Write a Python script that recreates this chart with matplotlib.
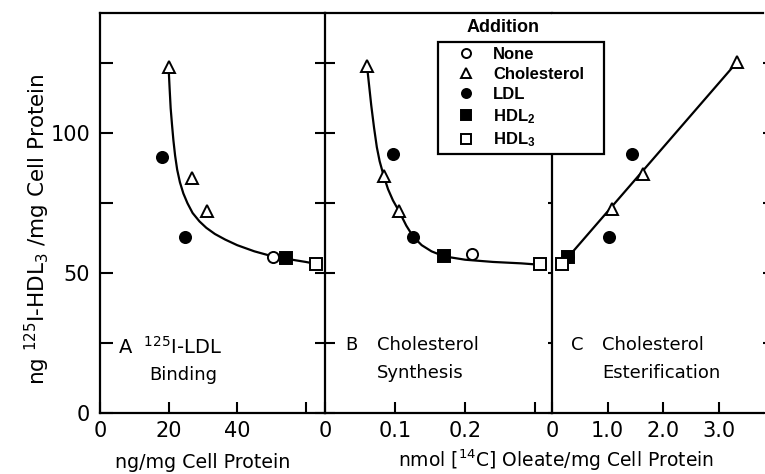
"""Three-panel HDL3 binding chart: LDL binding, sterol synthesis, esterification."""

import matplotlib
matplotlib.use('Agg')
from matplotlib import pyplot as plot
from matplotlib.lines import Line2D

plot.rcParams['font.family'] = ['DejaVu Sans']
plot.rcParams['mathtext.default'] = 'regular'

# y axis shared by all panels: ng 125I-HDL3 / mg cell protein
y_ticks = [0, 50, 100]
y_minor = [25, 75, 125]

# panel A: 125I-LDL binding (ng/mg cell protein)
binding_x = [50.3, 20.0, 26.7, 31.3, 18.1, 24.8, 54.2, 63.0]
binding_y = [55.8, 123.6, 83.9, 72.1, 91.4, 62.9, 55.4, 53.2]
binding_kind = ['None', 'Chol', 'Chol', 'Chol', 'LDL', 'LDL', 'HDL2', 'HDL3']
binding_curve_x = [20.0, 20.3, 20.6, 21.0, 21.4, 21.9, 22.5, 23.3, 24.3, 25.5, 27.0,
                   29.0, 31.0, 33.5, 36.5, 40.0, 45.0, 50.3, 55.0, 60.0, 63.0]
binding_curve_y = [123.5, 116.0, 109.0, 103.0, 97.5, 92.0, 87.0, 82.5, 78.5, 75.0, 71.5,
                   68.5, 66.2, 64.0, 62.0, 60.0, 57.8, 56.0, 55.0, 54.0, 53.3]

# panel B: cholesterol synthesis (nmol / mg)
synthesis_x = [0.210, 0.060, 0.084, 0.106, 0.097, 0.126, 0.170, 0.307]
synthesis_y = [56.7, 124.0, 84.6, 72.1, 92.5, 62.8, 56.0, 53.2]
synthesis_kind = ['None', 'Chol', 'Chol', 'Chol', 'LDL', 'LDL', 'HDL2', 'HDL3']
synthesis_curve_x = [0.060, 0.063, 0.066, 0.070, 0.074, 0.078, 0.084, 0.090, 0.097,
                     0.106, 0.116, 0.126, 0.138, 0.152, 0.170, 0.200, 0.240, 0.280, 0.307]
synthesis_curve_y = [124.0, 117.0, 110.0, 102.0, 95.0, 90.0, 84.6, 80.0, 76.0,
                     72.0, 67.0, 63.0, 60.0, 57.8, 56.0, 54.8, 54.0, 53.5, 53.0]

# panel C: cholesterol esterification (nmol [14C] oleate / mg)
ester_x = [0.29, 3.33, 1.64, 1.08, 1.44, 1.03, 0.29, 0.18]
ester_y = [55.7, 125.4, 85.4, 72.8, 92.5, 62.9, 55.7, 53.2]
ester_kind = ['None', 'Chol', 'Chol', 'Chol', 'LDL', 'LDL', 'HDL2', 'HDL3']
ester_line_x = [0.18, 3.33]
ester_line_y = [53.2, 125.4]

legend_kinds = ['None', 'Chol', 'LDL', 'HDL2', 'HDL3']
legend_labels = ['None', 'Cholesterol', 'LDL', 'HDL$_2$', 'HDL$_3$']

STYLE = {
    'None': dict(marker='o', mfc='white'),
    'Chol': dict(marker='^', mfc='white'),
    'LDL': dict(marker='o', mfc='black'),
    'HDL2': dict(marker='s', mfc='black'),
    'HDL3': dict(marker='s', mfc='white'),
}
MARK = dict(ls='none', mec='black', mew=1.4, ms=8, zorder=5, clip_on=False)

W, H = 765, 474
fig = plot.figure(figsize=(W / 100, H / 100), dpi=100)
fig.set_facecolor('white')


def px_axes(x0, x1, y0=13, y1=413):
    """Axes from pixel edges (y measured from top)."""
    return fig.add_axes([x0 / W, 1 - y1 / H, (x1 - x0) / W, (y1 - y0) / H])


def draw_points(ax, xs, ys, kinds):
    for x, y, k in zip(xs, ys, kinds):
        ax.plot([x], [y], **STYLE[k], **MARK)


ax_a = px_axes(100, 325)
ax_b = px_axes(325, 552)
ax_c = px_axes(552, 763)

ax_a.plot(binding_curve_x, binding_curve_y, color='black', lw=1.6, zorder=3)
draw_points(ax_a, binding_x, binding_y, binding_kind)
ax_b.plot(synthesis_curve_x, synthesis_curve_y, color='black', lw=1.6, zorder=3)
draw_points(ax_b, synthesis_x, synthesis_y, synthesis_kind)
ax_c.plot(ester_line_x, ester_line_y, color='black', lw=1.6, zorder=3)
draw_points(ax_c, ester_x, ester_y, ester_kind)

ax_a.set_xlim(0, 65.6)
ax_b.set_xlim(0, 0.324)
ax_c.set_xlim(0, 3.80)

for ax in ax_a, ax_b, ax_c:
    ax.set_ylim(0, 143)
    ax.set_yticks(y_ticks)
    ax.set_yticks(y_minor, minor=True)
    ax.spines['right'].set_visible(False)
    for side in 'top', 'bottom', 'left':
        ax.spines[side].set_linewidth(1.6)
    ax.tick_params(axis='x', direction='in', length=8, width=1.5, labelsize=15, pad=6)
    ax.tick_params(axis='y', which='both', length=9, width=1.5)

ax_a.tick_params(axis='y', which='both', direction='in', labelsize=15, pad=7)
for ax in ax_b, ax_c:
    ax.tick_params(axis='y', which='both', direction='inout', length=14, labelleft=False)
ax_c.spines['left'].set_bounds(0, 92.5)
# stub ticks along the clipped right edge
ax_c.tick_params(axis='y', which='both', right=True, direction='out', length=3)

ax_a.set_xticks([0, 20, 40, 60], ['0', '20', '40', ''])
ax_b.set_xticks([0, 0.1, 0.2, 0.3], ['0', '0.1', '0.2', ''])
ax_c.set_xticks([0, 1, 2, 3], ['0', '1.0', '2.0', '3.0'])

# panel captions
ax_a.text(0.08, 0.165, 'A  $^{125}$I-LDL', transform=ax_a.transAxes, fontsize=14, va='center')
ax_a.text(0.22, 0.095, 'Binding', transform=ax_a.transAxes, fontsize=13, va='center')
ax_b.text(0.09, 0.17, 'B', transform=ax_b.transAxes, fontsize=13, va='center')
ax_b.text(0.228, 0.17, 'Cholesterol', transform=ax_b.transAxes, fontsize=13, va='center')
ax_b.text(0.228, 0.10, 'Synthesis', transform=ax_b.transAxes, fontsize=13, va='center')
ax_c.text(0.09, 0.17, 'C', transform=ax_c.transAxes, fontsize=13, va='center')
ax_c.text(0.236, 0.17, 'Cholesterol', transform=ax_c.transAxes, fontsize=13, va='center')
ax_c.text(0.236, 0.10, 'Esterification', transform=ax_c.transAxes, fontsize=13, va='center')

# axis titles
fig.text(203 / W, 1 - 468 / H, 'ng/mg Cell Protein', fontsize=13.7, ha='center', va='baseline')
fig.text(556 / W, 1 - 467 / H, 'nmol [$^{14}$C] Oleate/mg Cell Protein', fontsize=13.5,
         ha='center', va='baseline')
fig.text(37 / W, 1 - 229 / H, 'ng $^{125}$I-HDL$_3$ /mg Cell Protein', fontsize=15.5,
         rotation=90, ha='center', va='center')

# legend
legend_font = dict(family='Liberation Sans', size=12, weight='bold')
handles = [Line2D([], [], **STYLE[k], ls='none', mec='black', mew=1.4, ms=6.5) for k in legend_kinds]
leg = fig.legend(handles, legend_labels, loc='upper left',
                 bbox_to_anchor=(438 / W, 1 - 154 / H, 166 / W, 112 / H), mode='expand',
                 frameon=True, fancybox=False, framealpha=1, edgecolor='black',
                 prop=legend_font, handlelength=2.75, handletextpad=0.25,
                 borderpad=0.3, labelspacing=0.3, borderaxespad=0)
leg.get_frame().set_linewidth(1.6)
fig.text(503 / W, 1 - 28 / H, 'Addition', ha='center', va='center', **{
    'family': 'Liberation Sans', 'fontsize': 13, 'fontweight': 'bold'})

fig.savefig('out.png', dpi=100)
